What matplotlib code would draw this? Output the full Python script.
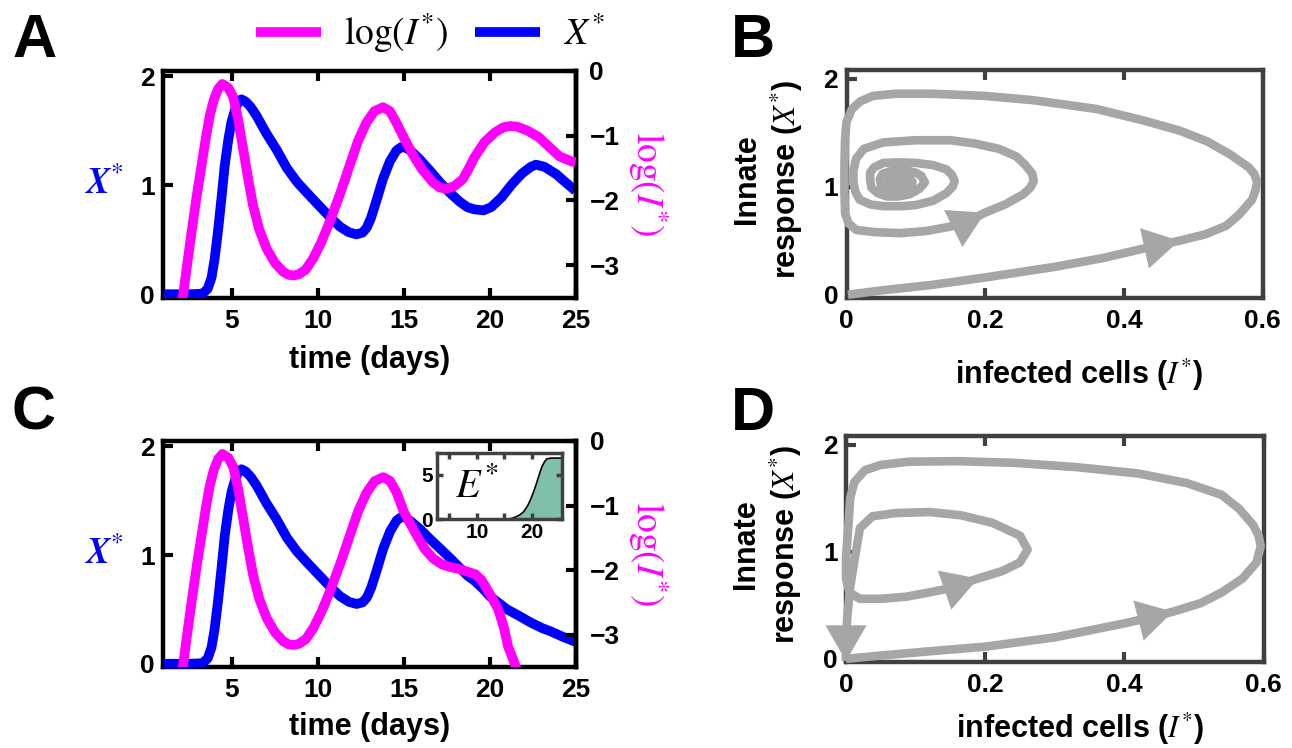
import matplotlib
matplotlib.use("Agg")
import matplotlib.pyplot as plt

plt.rcParams['font.family'] = ['Liberation Sans', 'DejaVu Sans']
plt.rcParams['mathtext.fontset'] = 'stix'

W, H = 1292, 748

# ---- panel A: time courses (days) ----
t_x_a = [1.0, 2.5, 3.3, 3.6, 3.82, 4.0, 4.2, 4.4, 4.59, 4.8, 4.98, 5.2, 5.4, 5.56, 5.8, 6.1,
         6.44, 7.0, 7.6, 8.2, 8.8, 9.5, 10.1, 10.7, 11.3, 11.8, 12.25, 12.6, 12.85, 13.1, 13.4,
         13.8, 14.2, 14.58, 14.85, 15.06, 15.4, 15.93, 16.5, 17.1, 17.7, 18.26, 18.7, 19.1,
         19.65, 20.1, 20.7, 21.3, 21.9, 22.4, 22.7, 23.2, 23.9, 24.4, 25.0]
x_a = [0.0, 0.0, 0.005, 0.05, 0.15, 0.32, 0.58, 0.88, 1.18, 1.42, 1.58, 1.7, 1.77, 1.79, 1.77, 1.72,
       1.64, 1.48, 1.33, 1.16, 1.03, 0.91, 0.81, 0.71, 0.62, 0.57, 0.55, 0.565, 0.61, 0.7, 0.85,
       1.06, 1.22, 1.32, 1.35, 1.35, 1.32, 1.24, 1.14, 1.03, 0.93, 0.85, 0.8, 0.78,
       0.77, 0.8, 0.89, 1.01, 1.11, 1.17, 1.19, 1.17, 1.1, 1.03, 0.95]

t_i_a = [2.0, 2.17, 2.4, 2.66, 2.95, 3.24, 3.5, 3.72, 3.95, 4.2, 4.45, 4.8, 5.08, 5.35, 5.66,
         5.95, 6.24, 6.6, 7.02, 7.5, 7.98, 8.3, 8.6, 8.9, 9.3, 9.73, 10.2, 10.7, 11.3, 11.86, 12.35,
         12.83, 13.3, 13.8, 14.2, 14.58, 15.05, 15.55, 16.1, 16.7, 17.1, 17.48, 17.95, 18.45,
         18.8, 19.13, 19.7, 20.3, 20.8, 21.2, 21.6, 22.2, 22.85, 23.5, 24.07, 24.8, 25.0]
logi_a = [-3.7, -3.46, -3.0, -2.49, -1.95, -1.46, -1.02, -0.69, -0.45, -0.28, -0.2, -0.26, -0.4, -0.72, -1.2,
          -1.66, -2.08, -2.45, -2.74, -2.96, -3.1, -3.15, -3.16, -3.14, -3.07, -2.9, -2.65, -2.33, -1.9, -1.46, -1.08,
          -0.8, -0.62, -0.56, -0.62, -0.8, -1.05, -1.3, -1.53, -1.72, -1.8, -1.82, -1.78, -1.67,
          -1.5, -1.33, -1.1, -0.95, -0.87, -0.85, -0.86, -0.92, -1.02, -1.18, -1.32, -1.4, -1.41]

# ---- panel C: same start, different tail ----
t_x_c = t_x_a[:36] + [15.4, 15.93, 16.5, 17.1, 17.7, 18.26, 18.7, 19.13, 19.6, 20.0, 20.5, 21.0,
                      21.7, 22.36, 23.0, 23.5, 24.2, 25.0]
x_c = x_a[:36] + [1.31, 1.24, 1.15, 1.06, 0.97, 0.88, 0.81, 0.76, 0.69, 0.62, 0.56, 0.5,
                  0.44, 0.38, 0.33, 0.3, 0.25, 0.2]

t_i_c = t_i_a[:36] + [15.0, 15.74, 16.2, 16.7, 17.2, 17.67, 18.2, 18.64, 19.13, 19.5, 19.75, 20.1,
                      20.47, 20.8, 21.05, 21.3, 21.5, 21.7]
logi_c = logi_a[:36] + [-1.1, -1.46, -1.67, -1.82, -1.91, -1.95, -1.98, -2.02, -2.06, -2.15, -2.26, -2.42,
                        -2.6, -2.88, -3.18, -3.35, -3.49, -3.7]

# inset of C: effector response
t_e = [2.7, 15.0, 16.0, 17.0, 17.8, 18.5, 19.2, 19.8, 20.3, 20.8, 21.3, 21.8, 22.3, 22.7, 23.2, 24.0, 25.4]
e_c = [0.0, 0.0, 0.05, 0.25, 0.5, 0.86, 1.5, 2.3, 3.1, 4.0, 5.0, 5.9, 6.5, 6.8, 6.87, 6.9, 6.9]

# ---- panel B: phase plane (I*, X*) ----
i_b = [0.002, 0.05, 0.122, 0.2, 0.302, 0.37, 0.43, 0.48, 0.518, 0.548, 0.566, 0.585, 0.59, 0.592,
       0.588, 0.58, 0.553, 0.52, 0.48, 0.43, 0.36, 0.27, 0.2, 0.125, 0.07, 0.038, 0.02, 0.008, 0.0,
       -0.002, -0.003, -0.003, -0.002, 0.003, 0.014, 0.04, 0.077, 0.115, 0.149, 0.175, 0.2, 0.23,
       0.255, 0.265, 0.27, 0.268, 0.258, 0.245, 0.22, 0.185, 0.15, 0.1, 0.053, 0.025, 0.014, 0.01,
       0.01, 0.013, 0.019, 0.035, 0.053, 0.08, 0.1, 0.125, 0.144, 0.153, 0.156, 0.152, 0.144,
       0.125, 0.1, 0.075, 0.053, 0.04, 0.034, 0.034, 0.036, 0.045, 0.058, 0.075, 0.091, 0.105,
       0.113, 0.108, 0.1, 0.085, 0.067, 0.052, 0.048, 0.05, 0.058, 0.072, 0.087, 0.095, 0.095,
       0.088, 0.075, 0.063, 0.06, 0.065, 0.078, 0.087, 0.083, 0.072, 0.067, 0.072, 0.079]
x_b = [0.0, 0.04, 0.09, 0.16, 0.26, 0.34, 0.43, 0.5, 0.56, 0.64, 0.74, 0.88, 0.97, 1.05,
       1.12, 1.18, 1.3, 1.42, 1.52, 1.61, 1.72, 1.8, 1.84, 1.86, 1.86, 1.84, 1.79, 1.72, 1.6,
       1.45, 1.2, 0.95, 0.75, 0.66, 0.6, 0.58, 0.57, 0.59, 0.63, 0.68, 0.76, 0.84,
       0.93, 0.99, 1.05, 1.12, 1.2, 1.28, 1.35, 1.4, 1.43, 1.43, 1.41, 1.35, 1.26, 1.15,
       1.04, 0.95, 0.88, 0.835, 0.82, 0.82, 0.83, 0.87, 0.94, 1.0, 1.05, 1.11, 1.16,
       1.2, 1.22, 1.225, 1.22, 1.18, 1.13, 1.06, 0.99, 0.94, 0.91, 0.91, 0.93, 0.98,
       1.04, 1.1, 1.13, 1.15, 1.15, 1.12, 1.07, 1.01, 0.96, 0.95, 0.97, 1.01, 1.05,
       1.09, 1.1, 1.08, 1.04, 1.0, 0.99, 1.02, 1.06, 1.07, 1.04, 1.02, 1.03]
arrows_b = [7, 40]          # index of arrow tip along the trajectory

# ---- panel D: phase plane with clearance ----
i_d = [0.0, 0.05, 0.12, 0.2, 0.3, 0.4, 0.44, 0.47, 0.51, 0.54, 0.57, 0.59, 0.596, 0.593, 0.585,
       0.565, 0.54, 0.49, 0.42, 0.33, 0.24, 0.16, 0.09, 0.05, 0.027, 0.012, 0.006, 0.003, 0.0, 0.0,
       0.005, 0.02, 0.05, 0.087, 0.12, 0.15, 0.19, 0.225, 0.25, 0.261, 0.25, 0.21, 0.165, 0.12,
       0.07, 0.038, 0.02, 0.013, 0.006, 0.002, 0.0, 0.0]
x_d = [0.0, 0.03, 0.07, 0.113, 0.2, 0.33, 0.39, 0.44, 0.52, 0.62, 0.75, 0.9, 1.05, 1.15, 1.25,
       1.4, 1.53, 1.64, 1.73, 1.79, 1.83, 1.845, 1.84, 1.81, 1.76, 1.65, 1.5, 1.2, 0.95, 0.75,
       0.62, 0.56, 0.56, 0.58, 0.62, 0.66, 0.75, 0.82, 0.9, 1.02, 1.15, 1.27, 1.34, 1.37,
       1.36, 1.33, 1.22, 0.95, 0.67, 0.4, 0.2, -0.02]
arrows_d = [7, 36, 51]

x_ticks_t = [5, 10, 15, 20, 25]
gray = '#a6a6a6'
dark = '#404040'
magenta = '#ff00ff'
blue = '#0000ff'
TICK_FS = 19
LABEL_FS = 22


def add_axes_px(fig, left, top, right, bottom):
    return fig.add_axes([left / W, 1 - bottom / H, (right - left) / W, (bottom - top) / H])


def style_time_axes(ax, ax2):
    for sp in ax.spines.values():
        sp.set_linewidth(3.2)
        sp.set_color('black')
    ax2.spines['right'].set_linewidth(3.2)
    ax.set_xlim(1, 25)
    ax.set_ylim(-0.03, 2.05)
    ax2.set_ylim(-3.5, 0)
    ax.set_xticks(x_ticks_t)
    ax.set_yticks([0, 1, 2])
    ax2.set_yticks([0, -1, -2, -3])
    ax.tick_params(direction='in', top=True, bottom=True, left=True, right=False,
                   length=7, width=3, labelsize=TICK_FS, pad=6)
    ax.tick_params(axis='x', pad=8)
    ax2.tick_params(direction='in', length=7, width=3, labelsize=TICK_FS, pad=10)
    for lab in ax.get_xticklabels() + ax.get_yticklabels() + ax2.get_yticklabels():
        lab.set_fontweight('bold')
    ax.set_xlabel('time (days)', fontsize=LABEL_FS, fontweight='bold', va='top')
    ax.xaxis.set_label_coords(0.5, -0.21)
    ax.set_ylabel(r'$\mathbfit{X}^{*}$', color=blue, fontsize=26, rotation=0,
                  ha='right', va='center')
    ax.yaxis.set_label_coords(-0.095, 0.5)
    ax2.set_ylabel(r'$\log(I^{*})$', color=magenta, fontsize=27, rotation=270,
                   va='center', ha='center')
    ax2.yaxis.set_label_coords(1.176, 0.5)


def draw_time_panel(ax, t_x, xs, t_i, li):
    ax2 = ax.twinx()
    lb, = ax.plot(t_x, xs, color=blue, lw=7, solid_capstyle='butt',
                  solid_joinstyle='round', clip_on=False, zorder=3)
    lm, = ax2.plot(t_i, li, color=magenta, lw=7, solid_capstyle='butt',
                   solid_joinstyle='round', zorder=3)
    style_time_axes(ax, ax2)
    return lb, lm


def draw_phase_panel(ax, ix, xx, arrow_idx):
    ax.plot(ix, xx, color=gray, lw=6.2, solid_capstyle='butt', solid_joinstyle='round',
            clip_on=False, zorder=3)
    for k in arrow_idx:
        ax.annotate('', xy=(ix[k], xx[k]), xytext=(ix[k - 1], xx[k - 1]),
                    arrowprops=dict(arrowstyle='-|>,head_length=0.95,head_width=0.55',
                                    color=gray, lw=0, mutation_scale=27,
                                    shrinkA=0, shrinkB=0),
                    annotation_clip=False, zorder=4)
    for sp in ax.spines.values():
        sp.set_linewidth(3.2)
        sp.set_color(dark)
    ax.set_xlim(0, 0.6)
    ax.set_ylim(-0.03, 2.08)
    ax.set_xticks([0, 0.2, 0.4, 0.6])
    ax.set_xticklabels(['0', '0.2', '0.4', '0.6'])
    ax.set_yticks([0, 1, 2])
    ax.tick_params(direction='in', top=True, right=False, length=7, width=3,
                   color=dark, labelsize=TICK_FS, pad=6)
    ax.tick_params(axis='x', pad=8)
    for lab in ax.get_xticklabels() + ax.get_yticklabels():
        lab.set_fontweight('bold')
    ax.set_ylabel('Innate\nresponse ($X^{*}$)', fontsize=LABEL_FS, fontweight='bold',
                  linespacing=1.25)
    ax.yaxis.set_label_coords(-0.1, 0.52)
    ax.set_xlabel('infected cells ($I^{*}$)', fontsize=LABEL_FS, fontweight='bold', va='top')


fig = plt.figure(figsize=(W / 100, H / 100), dpi=100)

ax_a = add_axes_px(fig, 163, 71, 575.5, 297.5)
ax_b = add_axes_px(fig, 846.5, 70, 1262.5, 298)
ax_c = add_axes_px(fig, 163, 441, 576, 667)
ax_d = add_axes_px(fig, 846, 436, 1263.5, 662)

lb, lm = draw_time_panel(ax_a, t_x_a, x_a, t_i_a, logi_a)
draw_time_panel(ax_c, t_x_c, x_c, t_i_c, logi_c)
ax_c.xaxis.set_label_coords(0.5, -0.2)

draw_phase_panel(ax_b, i_b, x_b, arrows_b)
ax_b.xaxis.set_label_coords(0.56, -0.26)
draw_phase_panel(ax_d, i_d, x_d, arrows_d)
ax_d.xaxis.set_label_coords(0.56, -0.215)

# inset with E*
ax_in = add_axes_px(fig, 436.7, 452.7, 561.7, 519.3)
ax_in.fill_between(t_e, e_c, 0, color='#80bfaa', lw=0)
ax_in.plot(t_e, e_c, color='black', lw=1.2)
ax_in.set_xlim(2.7, 25.4)
ax_in.set_ylim(0, 7.5)
ax_in.set_xticks([5, 10, 15, 20])
ax_in.set_xticklabels(['', '10', '', '20'])
ax_in.set_yticks([0, 5])
ax_in.tick_params(direction='in', top=True, right=True, length=4, width=2.5,
                  color=dark, labelsize=15, pad=3)
for lab in ax_in.get_xticklabels() + ax_in.get_yticklabels():
    lab.set_fontweight('bold')
for sp in ax_in.spines.values():
    sp.set_linewidth(2.5)
    sp.set_color(dark)
ax_in.text(0.15, 0.33, r'$E^{*}$', transform=ax_in.transAxes, fontsize=29)

# legend on top
fig.legend([lm, lb], [r'$\log(I^{*})$', r'$X^{*}$'], ncol=2, loc='center',
           bbox_to_anchor=(430 / W, 1 - 33 / H), frameon=False, fontsize=27,
           handlelength=1.75, handletextpad=0.6, columnspacing=0.7)

# panel letters
for letter, x, y in [('A', 12, 57), ('B', 731, 57), ('C', 12, 430), ('D', 731, 430)]:
    fig.text(x / W, 1 - y / H, letter, fontsize=44, fontweight='bold', va='baseline')

fig.savefig('out.png', dpi=100)
